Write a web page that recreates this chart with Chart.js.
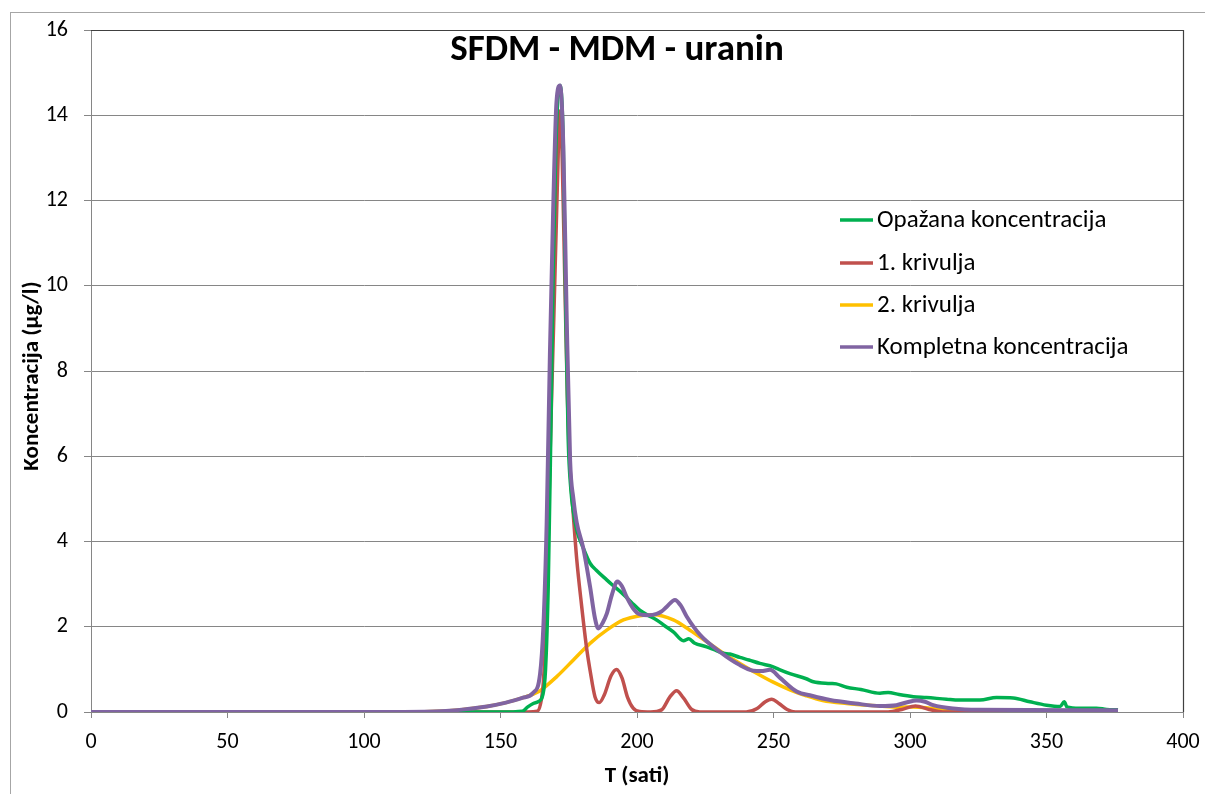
<!DOCTYPE html>
<html>
<head>
<meta charset="utf-8">
<script src="https://cdn.jsdelivr.net/npm/chart.js@4.4.0/dist/chart.umd.min.js"></script>
<style>
  html, body { margin: 0; padding: 0; background: #fff; }
  #frame { position: absolute; left: 10px; top: 12px; width: 1300px; height: 900px;
           border-left: 1px solid #a6a6a6; border-top: 1px solid #a6a6a6; }
  #chart { position: absolute; left: 0; top: 0; }
</style>
</head>
<body>
<div id="frame"></div>
<canvas id="chart" width="1205" height="794"></canvas>
<script>
// Opažana koncentracija (observed)
const obsT = [0, 150, 158, 160, 162, 164, 165.5, 166.5, 167.5, 168.4, 169.3, 170.3, 171.2, 171.8, 172.5, 173,
  173.9, 174.8, 175.8, 176.7, 178, 180.3, 182.8, 185, 188.9, 191, 195, 198, 201, 204, 207.2, 210, 213.3,
  217, 219, 221, 225.5, 228, 231.6, 234, 237.7, 241, 245, 249.9, 252.4, 256, 262, 264.6, 270.7, 273, 276.8, 282,
  289, 292, 296, 301.2, 306, 313.4, 318, 325.6, 331.7, 337.8, 343.9, 350, 355, 356.5, 357.5, 362.2, 368.3, 372, 376.2];
const obsC = [0, 0, 0.02, 0.12, 0.2, 0.25, 0.4, 1.0, 3.0, 6.4, 10.3, 13.3, 14.55, 14.7, 14.3, 13.3,
  9.4, 6.4, 5.2, 4.7, 4.25, 3.85, 3.49, 3.33, 3.1, 2.98, 2.76, 2.57, 2.39, 2.27, 2.16, 2.03, 1.88,
  1.67, 1.72, 1.62, 1.53, 1.47, 1.38, 1.36, 1.28, 1.22, 1.14, 1.06, 0.99, 0.9, 0.78, 0.71, 0.67, 0.66, 0.58, 0.53,
  0.44, 0.46, 0.41, 0.36, 0.34, 0.3, 0.28, 0.28, 0.34, 0.33, 0.24, 0.16, 0.13, 0.24, 0.12, 0.09, 0.09, 0.06, 0.05];

// 1. krivulja
const k1T = [0, 160, 163.5, 165, 165.7, 166.9, 168.1, 169.6, 170.8, 171.8, 172.6, 173.5, 174.5, 175.5, 176.7,
  177.9, 179.7, 181.6, 182.8, 184.6, 186.2, 188, 190.5, 192.5, 194.5, 196.5, 198.6, 201, 205, 209, 212,
  214.5, 217, 220, 223, 240, 244, 247, 249.3, 252, 255, 258, 292, 297, 302, 307, 312, 376.2];
const k1C = [0, 0, 0.02, 0.3, 0.7, 2.4, 5.9, 9.4, 12.3, 14.1, 13.0, 10.3, 7.4, 5.7, 4.6,
  3.6, 2.5, 1.47, 0.98, 0.36, 0.22, 0.4, 0.85, 1.0, 0.8, 0.35, 0.09, 0.01, 0, 0.05, 0.35,
  0.5, 0.33, 0.06, 0, 0, 0.08, 0.24, 0.3, 0.2, 0.06, 0, 0, 0.06, 0.14, 0.06, 0, 0];

// 2. krivulja
const k2T = [0, 110, 125, 135, 145, 152, 158, 162, 164.5, 170.6, 176.7, 182.8, 188.9, 195, 201.1, 206,
  213.3, 219.4, 225.5, 231.6, 237.7, 243.8, 249.9, 256, 262, 268, 276.8, 289, 296, 301, 306, 312, 320, 330, 376.2];
const k2C = [0, 0, 0.01, 0.05, 0.13, 0.22, 0.33, 0.42, 0.5, 0.83, 1.22, 1.61, 1.92, 2.16, 2.26, 2.28,
  2.16, 1.92, 1.65, 1.38, 1.14, 0.91, 0.7, 0.52, 0.38, 0.27, 0.2, 0.14, 0.11, 0.12, 0.1, 0.05, 0.02, 0.01, 0];

// Kompletna koncentracija
const kT = [0, 110, 125, 135, 145, 152, 158, 162, 164.5, 165.7, 166.9, 168.1, 169.3, 170.5, 171.8, 173,
  174.2, 175.5, 176.7, 177.9, 180.3, 182.8, 184.6, 185.8, 187.5, 188.9, 190.8, 192.8, 194.5, 196.2, 198.6,
  201.1, 204, 207.2, 209, 210.9, 213.9, 216, 218.2, 223.1, 230.4, 237.7, 242.6, 245.5, 248.7, 252.4, 258.5,
  264, 270.7, 280, 289, 295, 299, 302.4, 305.5, 308.5, 315.8, 325, 376.2];
const kC = [0, 0, 0.01, 0.05, 0.13, 0.22, 0.33, 0.45, 0.9, 2.0, 4.4, 8.4, 11.8, 14.3, 14.7, 13.3,
  9.4, 5.9, 5.0, 4.45, 3.85, 2.94, 2.2, 1.96, 2.1, 2.3, 2.75, 3.06, 2.95, 2.7, 2.43,
  2.29, 2.27, 2.3, 2.36, 2.47, 2.63, 2.5, 2.24, 1.81, 1.41, 1.1, 0.97, 0.96, 0.99, 0.8, 0.48,
  0.38, 0.28, 0.2, 0.14, 0.16, 0.23, 0.27, 0.24, 0.16, 0.08, 0.05, 0.04];

const FONT = "Carlito, Lato, 'Liberation Sans', sans-serif";
const GRID = "#868686";

function pts(ts, cs) {
  return ts.map((t, i) => ({ x: t, y: cs[i] }));
}

const series = [
  { label: "Opažana koncentracija", data: pts(obsT, obsC), borderColor: "#00B050", order: 2 },
  { label: "1. krivulja", data: pts(k1T, k1C), borderColor: "#C0504D", order: 3 },
  { label: "2. krivulja", data: pts(k2T, k2C), borderColor: "#FFC000", order: 4 },
  { label: "Kompletna koncentracija", data: pts(kT, kC), borderColor: "#8064A2", order: 1, borderWidth: 4 },
].map((d) => ({
  borderWidth: 3.5,
  pointRadius: 0,
  fill: false,
  cubicInterpolationMode: "monotone",
  ...d,
}));

const decor = {
  id: "decor",
  afterDraw(chart) {
    const { ctx, chartArea: a } = chart;
    ctx.save();
    // plot frame (top / right)
    ctx.strokeStyle = "#404040";
    ctx.lineWidth = 1.2;
    ctx.beginPath();
    ctx.moveTo(a.left, a.top + 0.5);
    ctx.lineTo(a.right + 0.5, a.top + 0.5);
    ctx.lineTo(a.right + 0.5, a.bottom);
    ctx.stroke();

    ctx.fillStyle = "#000";
    ctx.textAlign = "center";
    ctx.textBaseline = "middle";
    ctx.font = `bold 37px ${FONT}`;
    ctx.fillText("SFDM - MDM - uranin", 617, 51);

    ctx.font = `bold 23px ${FONT}`;
    ctx.fillText("T (sati)", 637, 776);
    ctx.save();
    ctx.translate(32, 376);
    ctx.rotate(-Math.PI / 2);
    ctx.fillText("Koncentracija (µg/l)", 0, 0);
    ctx.restore();

    // legend
    const rows = [220, 263, 305, 347];
    ctx.textAlign = "left";
    ctx.font = `25px ${FONT}`;
    rows.forEach((y, i) => {
      const ds = chart.data.datasets[i];
      ctx.strokeStyle = ds.borderColor;
      ctx.lineWidth = 3.5;
      ctx.beginPath();
      ctx.moveTo(840, y);
      ctx.lineTo(873, y);
      ctx.stroke();
      ctx.fillStyle = "#000";
      ctx.fillText(ds.label, 877, y + 1);
    });
    ctx.restore();
  },
};

new Chart(document.getElementById("chart"), {
  type: "line",
  data: { datasets: series },
  options: {
    responsive: false,
    animation: false,
    layout: { padding: { left: 0, right: 22, top: 30, bottom: 0 } },
    plugins: { legend: { display: false }, tooltip: { enabled: false } },
    scales: {
      x: {
        type: "linear",
        min: 0,
        max: 400,
        ticks: { stepSize: 50, color: "#000", font: { family: FONT, size: 22 }, padding: 11, maxRotation: 0 },
        grid: { drawOnChartArea: false, tickLength: 6, color: GRID },
        border: { color: GRID },
        afterFit: (s) => { s.height = 82; s.paddingRight = 0; s.paddingLeft = 0; },
      },
      y: {
        min: 0,
        max: 16,
        ticks: { stepSize: 2, color: "#000", font: { family: FONT, size: 22 }, padding: 16 },
        grid: { color: GRID, tickLength: 7 },
        border: { color: GRID },
        afterFit: (s) => { s.width = 91; s.paddingTop = 0; s.paddingBottom = 0; },
      },
    },
  },
  plugins: [decor],
});
</script>
</body>
</html>
